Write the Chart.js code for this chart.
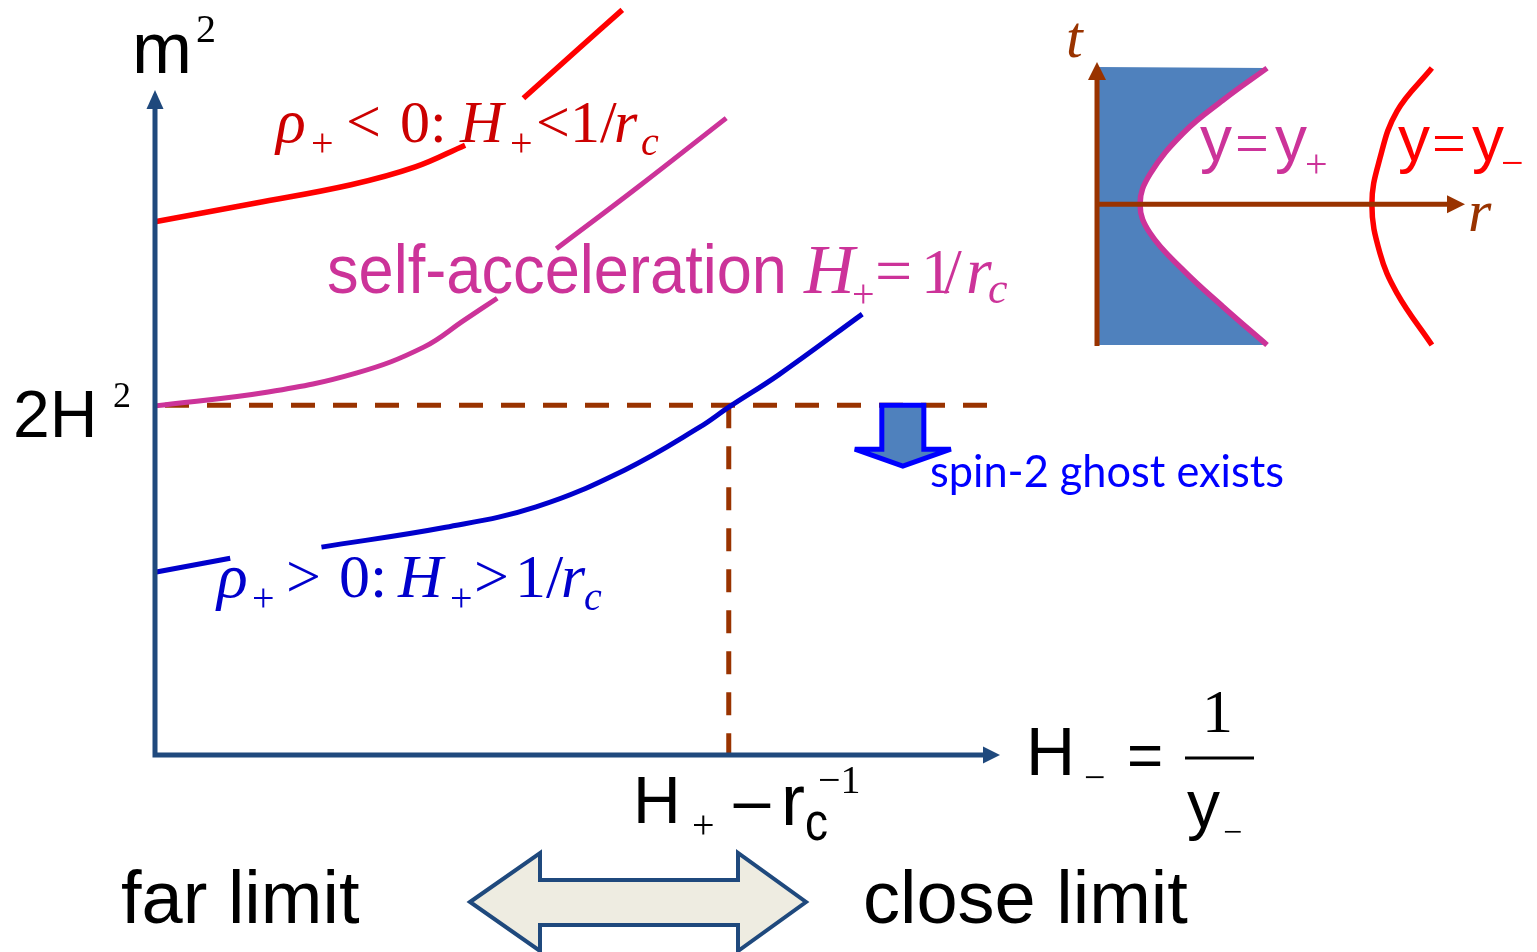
<!DOCTYPE html>
<html>
<head>
<meta charset="utf-8">
<script src="https://cdn.jsdelivr.net/npm/chart.js@4.4.1/dist/chart.umd.min.js"></script>
<style>
  body { margin: 0; background: #fff; }
  #wrap { position: relative; width: 1537px; height: 952px; overflow: hidden; }
  #wrap canvas { position: absolute; }
  #insetChart { left: 1040px; top: 0; }
  #mainChart { left: 0; top: 0; }
</style>
</head>
<body>
<div id="wrap">
  <canvas id="insetChart" width="497" height="380"></canvas>
  <canvas id="mainChart" width="1537" height="952"></canvas>
</div>
<script>
// ---- main diagram: x = H_- , y = m^2 (arbitrary units) ----
const level2H2 = 5.3;        // the 2H^2 line
const crossX = 6.79;         // where the rho>0 curve meets 2H^2  (H_+ - 1/r_c)
const dashEndX = 9.88;
const ghostX = 8.85;         // "spin-2 ghost" arrow position

// rho_+ < 0 branch (two pieces, interrupted by its label)
const redLowX  = [0, 1.18, 2.32, 3.08, 3.67];
const redLowY  = [8.08, 8.36, 8.64, 8.91, 9.24];
const redHighX = [4.36, 4.96, 5.53];
const redHighY = [9.95, 10.64, 11.29];

// self-accelerating branch
const selfLowX  = [0, 1.34, 2.39, 3.18, 3.66, 4.05];
const selfLowY  = [5.29, 5.50, 5.79, 6.18, 6.59, 6.92];
const selfHighX = [4.75, 5.72, 6.76];
const selfHighY = [7.67, 8.61, 9.65];

// rho_+ > 0 branch
const blueLowX  = [0, 0.89];
const blueLowY  = [2.77, 2.98];
const blueHighX = [1.97, 3.44, 4.51, 5.56, 6.45, 6.79, 7.38, 8.37];
const blueHighY = [3.15, 3.45, 3.76, 4.32, 4.97, 5.27, 5.76, 6.68];

// ---- inset: r horizontal, t vertical ----
const braneR = [4.62, 3.42, 2.34, 1.44, 1.17, 1.44, 2.34, 3.42, 4.62];   // y = y_+
const braneT = [3.72, 2.84, 1.94, 0.82, 0, -0.79, -1.80, -2.80, -3.85];
const farR = [9.10, 8.15, 7.69, 7.47, 7.69, 8.15, 9.10];                 // y = y_-
const farT = [3.72, 2.54, 1.26, 0, -1.34, -2.43, -3.85];

const AXIS = '#1f497d';
const BROWN = '#993300';
const RED = '#ff0000';
const PINK = '#cc3399';
const BLUE = '#0000cc';
const SERIF = '"Liberation Serif", "DejaVu Serif", serif';
const SANS = '"Liberation Sans", Arial, sans-serif';

function pts(xs, ys) {
  return xs.map((v, i) => ({ x: v, y: ys[i] }));
}

function curve(xs, ys, color, extra) {
  return Object.assign({
    data: pts(xs, ys),
    showLine: true,
    borderColor: color,
    borderWidth: 5,
    tension: 0.4,
    pointRadius: 0,
    fill: false,
    clip: false
  }, extra || {});
}

// text pieces: [text, x, baseline, font, color, width?]
function drawTexts(ctx, list, offX) {
  ctx.save();
  ctx.textBaseline = 'alphabetic';
  ctx.textAlign = 'left';
  for (const [t, x, y, font, color, w] of list) {
    ctx.font = font;
    ctx.fillStyle = color;
    let sx = 1;
    if (w) sx = w / ctx.measureText(t).width;
    ctx.save();
    ctx.translate(x - (offX || 0), y);
    ctx.scale(sx, 1);
    ctx.fillText(t, 0, 0);
    ctx.restore();
  }
  ctx.restore();
}

function poly(ctx, p, fill, stroke, lw) {
  ctx.beginPath();
  ctx.moveTo(p[0][0], p[0][1]);
  for (let i = 1; i < p.length; i++) ctx.lineTo(p[i][0], p[i][1]);
  ctx.closePath();
  if (fill) { ctx.fillStyle = fill; ctx.fill(); }
  if (stroke) { ctx.strokeStyle = stroke; ctx.lineWidth = lw; ctx.lineJoin = 'miter'; ctx.stroke(); }
}

const mainTexts = [
  ['m', 132, 73, `72px ${SANS}`, '#000'],
  ['2', 196, 42, `40px ${SERIF}`, '#000'],
  ['2H', 13, 437, `66px ${SANS}`, '#000'],
  ['2', 113, 407, `36px ${SERIF}`, '#000'],

  ['ρ', 276, 142, `italic 62px ${SERIF}`, '#cc0000'],
  ['+', 311, 156, `40px ${SERIF}`, '#cc0000'],
  ['<', 346, 142, `62px ${SERIF}`, '#cc0000'],
  ['0:', 400, 142, `60px ${SERIF}`, '#cc0000'],
  ['H', 460, 142, `italic 60px ${SERIF}`, '#cc0000'],
  ['+', 510, 156, `40px ${SERIF}`, '#cc0000'],
  ['<', 536, 142, `60px ${SERIF}`, '#cc0000'],
  ['1/', 570, 142, `60px ${SERIF}`, '#cc0000'],
  ['r', 614, 142, `italic 60px ${SERIF}`, '#cc0000'],
  ['c', 641, 155, `italic 40px ${SERIF}`, '#cc0000'],

  ['self-acceleration', 327, 293, `68px ${SANS}`, PINK, 460],
  ['H', 804, 293, `italic 70px ${SERIF}`, PINK],
  ['+', 852, 307, `40px ${SERIF}`, PINK],
  ['=', 875, 293, `66px ${SERIF}`, PINK],
  ['1', 921, 293, `64px ${SERIF}`, PINK],
  ['/', 944, 293, `64px ${SERIF}`, PINK],
  ['r', 966, 293, `italic 66px ${SERIF}`, PINK],
  ['c', 988, 303, `italic 44px ${SERIF}`, PINK],

  ['ρ', 217, 597, `italic 64px ${SERIF}`, BLUE],
  ['+', 252, 611, `40px ${SERIF}`, BLUE],
  ['>', 286, 597, `62px ${SERIF}`, BLUE],
  ['0:', 339, 597, `62px ${SERIF}`, BLUE],
  ['H', 398, 597, `italic 62px ${SERIF}`, BLUE],
  ['+', 450, 611, `40px ${SERIF}`, BLUE],
  ['>', 474, 597, `62px ${SERIF}`, BLUE],
  ['1/', 515, 597, `62px ${SERIF}`, BLUE],
  ['r', 561, 597, `italic 62px ${SERIF}`, BLUE],
  ['c', 584, 610, `italic 40px ${SERIF}`, BLUE],

  ['spin-2 ghost exists', 930, 487, `44px Lato, ${SANS}`, '#0000ff', 354],

  ['H', 633, 823, `66px ${SANS}`, '#000'],
  ['+', 692, 838, `40px ${SERIF}`, '#000'],
  ['−', 730, 827, `64px ${SANS}`, '#000', 44],
  ['r', 781, 825, `72px ${SANS}`, '#000'],
  ['c', 805, 840, `54px ${SANS}`, '#000', 23],
  ['−1', 818, 793, `40px ${SERIF}`, '#000'],

  ['H', 1026, 775, `68px ${SANS}`, '#000'],
  ['−', 1084, 790, `38px ${SERIF}`, '#000'],
  ['=', 1127, 776, `62px ${SANS}`, '#000'],
  ['1', 1202, 732, `62px ${SERIF}`, '#000'],
  ['y', 1187, 827, `66px ${SANS}`, '#000'],
  ['−', 1223, 843, `34px ${SERIF}`, '#000'],

  ['far limit', 121, 923, `74px ${SANS}`, '#000'],
  ['close limit', 863, 923, `74px ${SANS}`, '#000']
];

const insetTexts = [
  ['t', 1066, 57, `italic 60px ${SERIF}`, BROWN],
  ['r', 1468, 231, `italic 60px ${SERIF}`, BROWN],
  ['y', 1200, 161, `64px ${SANS}`, PINK],
  ['=', 1235, 163, `60px ${SERIF}`, PINK],
  ['y', 1275, 161, `64px ${SANS}`, PINK],
  ['+', 1305, 177, `40px ${SERIF}`, PINK],
  ['y', 1398, 161, `64px ${SANS}`, RED],
  ['=', 1432, 163, `60px ${SERIF}`, RED],
  ['y', 1472, 161, `64px ${SANS}`, RED],
  ['−', 1501, 176, `40px ${SERIF}`, RED]
];

const mainOverlay = {
  id: 'mainOverlay',
  afterDatasetsDraw(chart) {
    const { ctx, scales: { x, y } } = chart;
    const x0 = x.getPixelForValue(0), y0 = y.getPixelForValue(0);
    const xe = x.getPixelForValue(x.max), ye = y.getPixelForValue(y.max);
    ctx.save();
    // axes with arrow heads
    ctx.strokeStyle = AXIS;
    ctx.lineWidth = 5;
    ctx.beginPath();
    ctx.moveTo(x0, y0 + 2.5); ctx.lineTo(x0, ye + 14);
    ctx.moveTo(x0 - 2.5, y0); ctx.lineTo(xe - 14, y0);
    ctx.stroke();
    poly(ctx, [[x0, ye - 5], [x0 - 8.5, ye + 14], [x0 + 8.5, ye + 14]], AXIS);
    poly(ctx, [[xe, y0], [xe - 17, y0 - 8.5], [xe - 17, y0 + 8.5]], AXIS);

    // "ghost" arrow hanging below the 2H^2 line
    const gx = x.getPixelForValue(ghostX), gy = y.getPixelForValue(level2H2);
    ctx.miterLimit = 4;
    poly(ctx, [[gx - 21, gy], [gx + 21, gy], [gx + 21, gy + 44], [gx + 48, gy + 44],
               [gx, gy + 61], [gx - 48, gy + 44], [gx - 21, gy + 44]], '#4f81bd', '#0000ff', 5);

    // fraction bar of 1/y_-
    ctx.strokeStyle = '#000';
    ctx.lineWidth = 3;
    ctx.beginPath(); ctx.moveTo(1185, 758); ctx.lineTo(1254, 758); ctx.stroke();

    // far <-> close double arrow
    ctx.miterLimit = 10;
    poly(ctx, [[470, 902], [540, 853], [540, 880], [738, 880], [738, 853], [806, 902],
               [738, 951], [738, 925], [540, 925], [540, 951]], '#eeece1', AXIS, 4);
    ctx.restore();

    drawTexts(ctx, mainTexts, 0);
  }
};

const insetOverlay = {
  id: 'insetOverlay',
  beforeDatasetsDraw(chart) {
    // shaded bulk between t axis and the brane y = y_+
    const { ctx, scales: { x, y } } = chart;
    const line = chart.getDatasetMeta(0).dataset;
    const x0 = x.getPixelForValue(0);
    const yt = y.getPixelForValue(y.max), yb = y.getPixelForValue(y.min);
    ctx.save();
    ctx.beginPath();
    if (line && line.path) {
      line.updateControlPoints(chart.chartArea, 'x');
      line.path(ctx);
    } else {
      braneR.forEach((r, i) => ctx.lineTo(x.getPixelForValue(r), y.getPixelForValue(braneT[i])));
    }
    ctx.lineTo(x0, yb);
    ctx.lineTo(x0, yt);
    ctx.closePath();
    ctx.fillStyle = '#4f81bd';
    ctx.fill();
    ctx.restore();
  },
  afterDatasetsDraw(chart) {
    const { ctx, scales: { x, y } } = chart;
    const x0 = x.getPixelForValue(0), t0 = y.getPixelForValue(0);
    const xe = x.getPixelForValue(x.max);
    const yt = y.getPixelForValue(y.max), yb = y.getPixelForValue(y.min);
    ctx.save();
    ctx.strokeStyle = BROWN;
    ctx.lineWidth = 5;
    ctx.beginPath();
    ctx.moveTo(x0, yb + 1); ctx.lineTo(x0, yt + 12);
    ctx.moveTo(x0, t0); ctx.lineTo(xe - 14, t0);
    ctx.stroke();
    poly(ctx, [[x0, yt - 5], [x0 - 9, yt + 13], [x0 + 9, yt + 13]], BROWN);
    poly(ctx, [[xe, t0], [xe - 18, t0 - 9], [xe - 18, t0 + 9]], BROWN);
    ctx.restore();
    drawTexts(ctx, insetTexts, 1040);
  }
};

function build() {
  new Chart(document.getElementById('mainChart'), {
    type: 'scatter',
    data: {
      datasets: [
        curve(blueHighX, blueHighY, BLUE),
        curve(blueLowX, blueLowY, BLUE),
        curve(selfHighX, selfHighY, PINK),
        curve(selfLowX, selfLowY, PINK),
        curve(redHighX, redHighY, RED, { borderWidth: 5.5 }),
        curve(redLowX, redLowY, RED, { borderWidth: 5.5 }),
        curve([0, dashEndX], [level2H2, level2H2], BROWN,
              { borderWidth: 5, tension: 0, borderDash: [24, 18], borderDashOffset: 32 }),
        curve([crossX, crossX], [level2H2, 0], BROWN,
              { borderWidth: 5, tension: 0, borderDash: [23, 18] })
      ]
    },
    options: {
      responsive: false,
      animation: false,
      events: [],
      layout: { padding: { left: 155, right: 537, top: 95, bottom: 197 } },
      plugins: { legend: { display: false }, tooltip: { enabled: false } },
      scales: {
        x: { type: 'linear', min: 0, max: 10, display: false },
        y: { type: 'linear', min: 0, max: 10, display: false }
      }
    },
    plugins: [mainOverlay]
  });

  new Chart(document.getElementById('insetChart'), {
    type: 'scatter',
    data: {
      datasets: [
        curve(braneR, braneT, PINK, { borderWidth: 5.5 }),
        curve(farR, farT, RED, { borderWidth: 5.5 })
      ]
    },
    options: {
      responsive: false,
      animation: false,
      events: [],
      layout: { padding: { left: 57, right: 72, top: 67, bottom: 35 } },
      plugins: { legend: { display: false }, tooltip: { enabled: false } },
      scales: {
        x: { type: 'linear', min: 0, max: 10, display: false },
        y: { type: 'linear', min: -3.85, max: 3.75, display: false }
      }
    },
    plugins: [insetOverlay]
  });
}

Promise.all([
  document.fonts.load(`44px Lato`),
  document.fonts.load(`60px ${SANS}`),
  document.fonts.load(`60px ${SERIF}`),
  document.fonts.load(`italic 60px ${SERIF}`)
]).then(build, build);
</script>
</body>
</html>
